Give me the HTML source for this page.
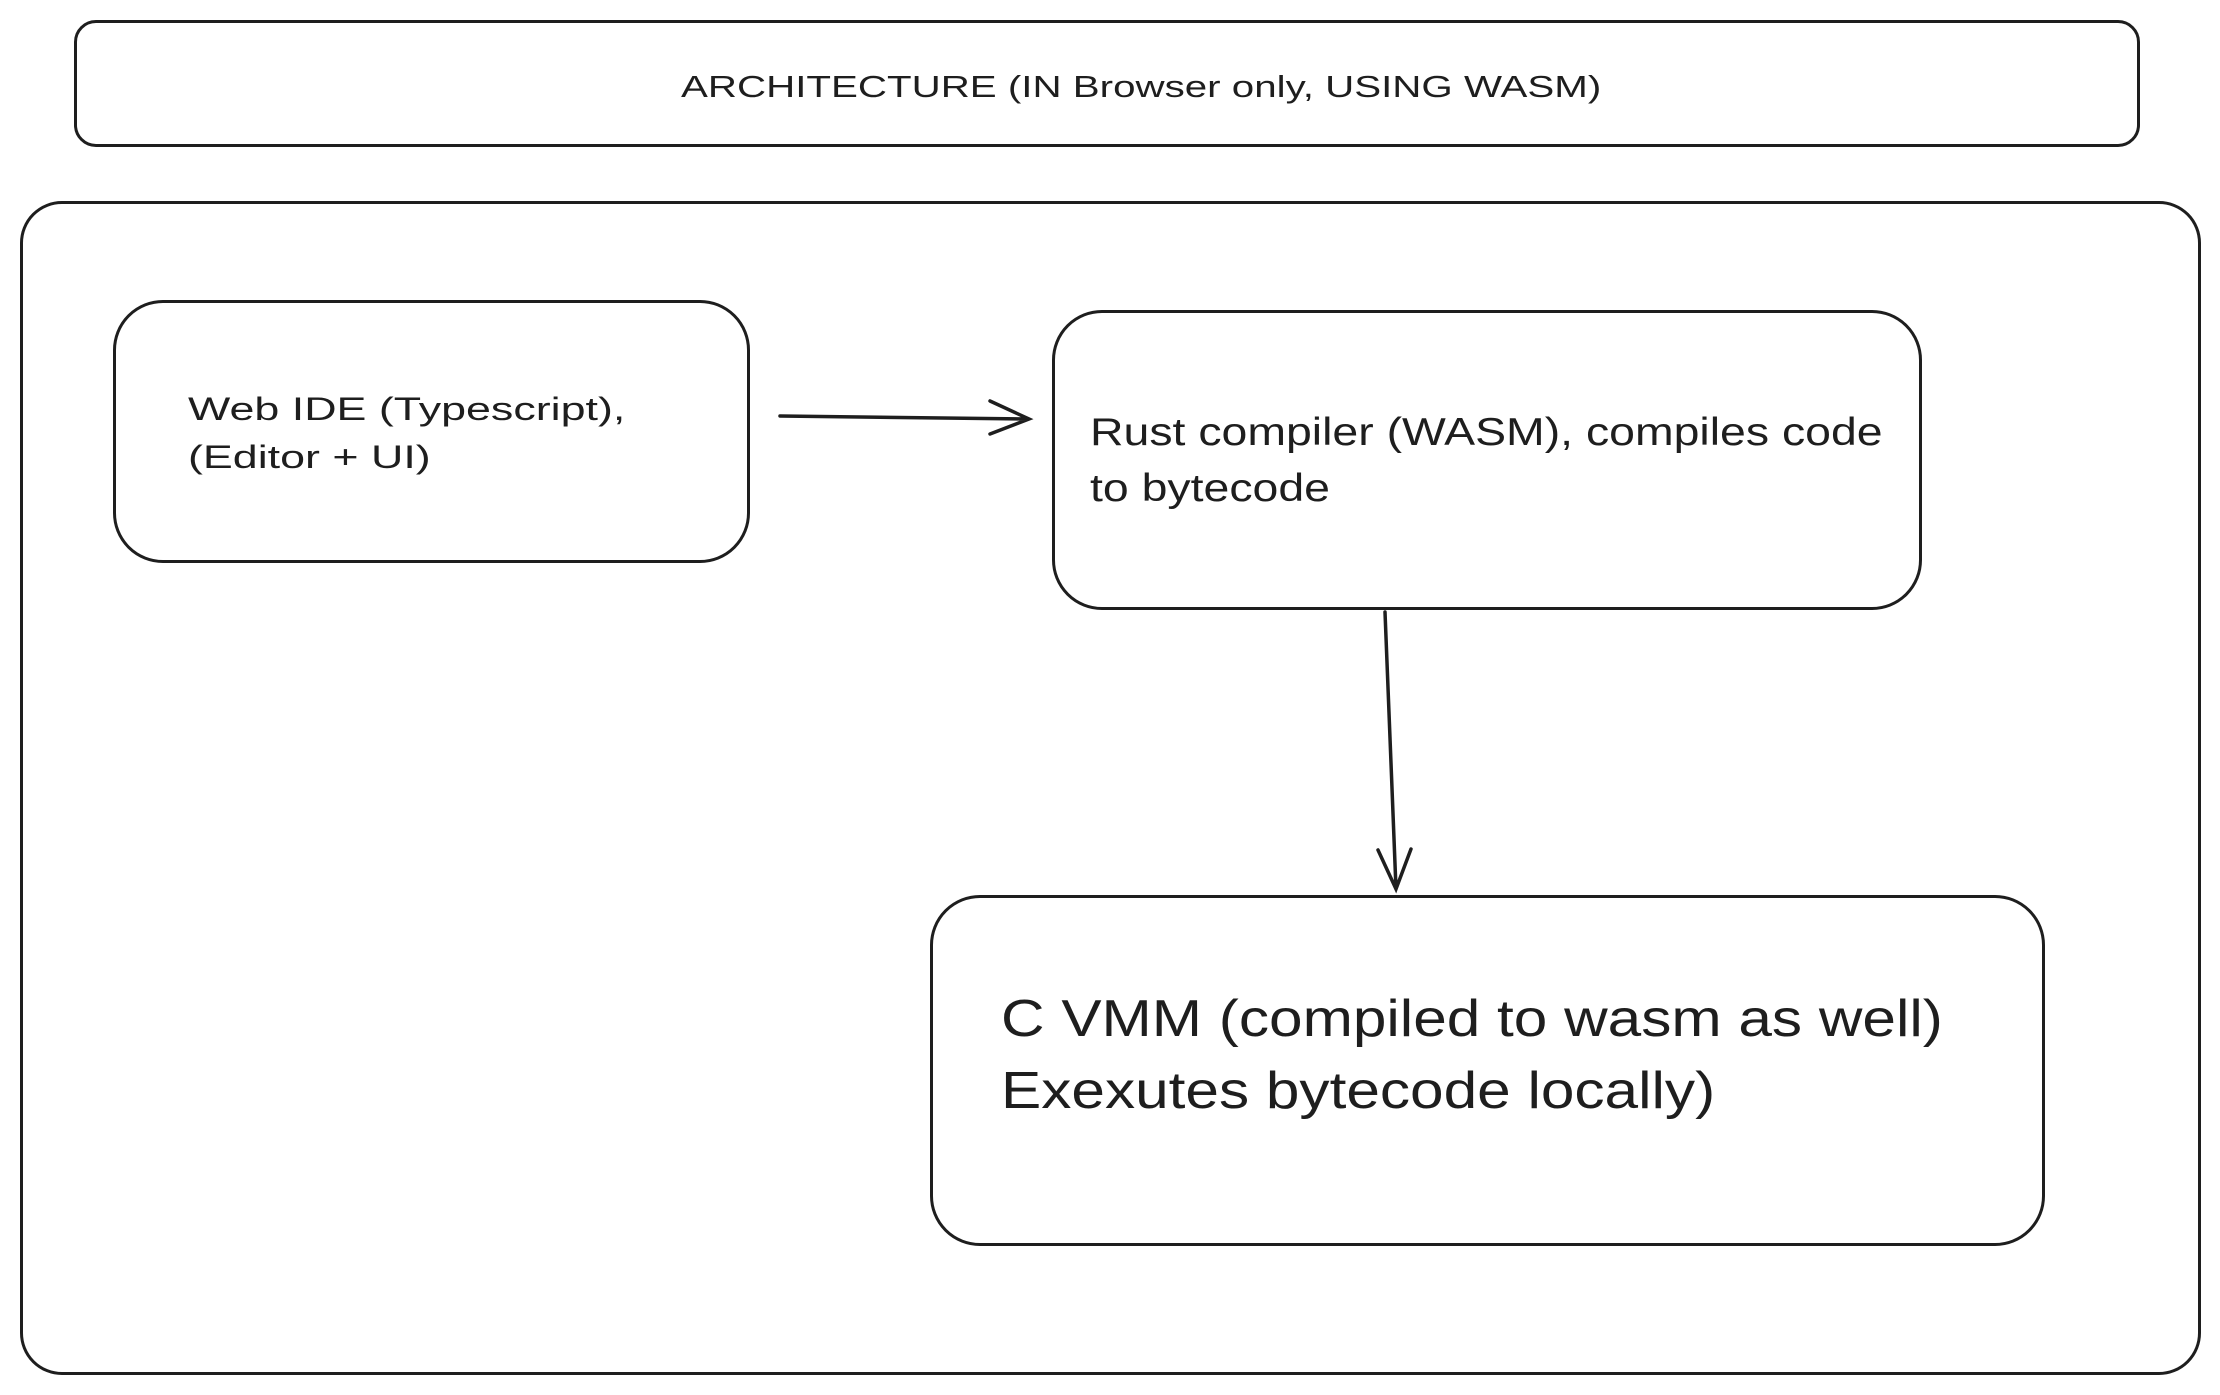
<!DOCTYPE html>
<html><head><meta charset="utf-8"><style>
html,body{margin:0;padding:0;background:#fff;}
body{width:2220px;height:1395px;position:relative;overflow:hidden;font-family:"Liberation Sans",sans-serif;color:#1e1e1e;}
.b{position:absolute;border:3px solid #1e1e1e;box-sizing:border-box;}
.t{position:absolute;white-space:nowrap;transform-origin:0 0;}
</style></head><body>
<div class="b" style="left:74px;top:20px;width:2066px;height:127px;border-radius:22px;"></div>
<div class="t" style="left:681px;top:69px;font-size:31px;transform:scaleX(1.3);">ARCHITECTURE (IN Browser only, USING WASM)</div>
<div class="b" style="left:20px;top:201px;width:2181px;height:1174px;border-radius:42px;"></div>
<div class="b" style="left:113px;top:300px;width:637px;height:263px;border-radius:50px;"></div>
<div class="t" style="left:188px;top:385px;font-size:32px;line-height:48px;transform:scaleX(1.4);">Web IDE (Typescript),<br>(Editor + UI)</div>
<div class="b" style="left:1052px;top:310px;width:870px;height:300px;border-radius:50px;"></div>
<div class="t" style="left:1090px;top:405px;font-size:39px;line-height:56px;transform:scaleX(1.19);">Rust compiler (WASM), compiles code<br>to bytecode</div>
<div class="b" style="left:930px;top:895px;width:1115px;height:351px;border-radius:50px;"></div>
<div class="t" style="left:1001px;top:983px;font-size:52px;line-height:72px;transform:scaleX(1.16);">C VMM (compiled to wasm as well)<br>Exexutes bytecode locally)</div>
<svg width="2220" height="1395" style="position:absolute;left:0;top:0" fill="none" stroke="#1e1e1e" stroke-width="3.5" stroke-linecap="round">
<path d="M780 416 L1029 419 M990 401 L1029 419 L990 434"/>
<path d="M1385 612 L1396 889 M1378 850 L1396 889 L1411 849"/>
</svg>
</body></html>
